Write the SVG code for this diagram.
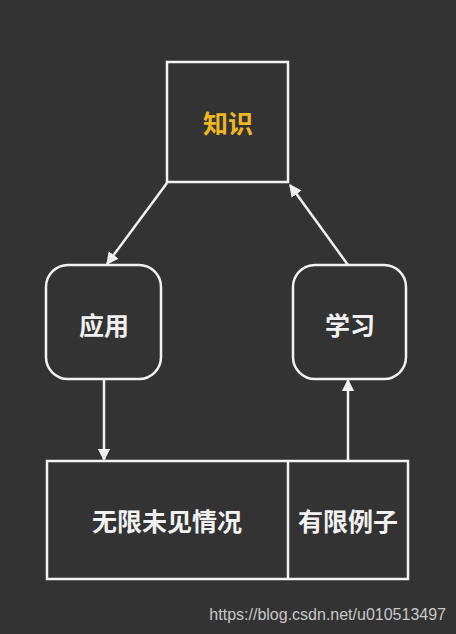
<svg xmlns="http://www.w3.org/2000/svg" width="456" height="634" viewBox="0 0 456 634">
<style>
.box{fill:#333333;stroke:#f2f2f2;stroke-width:2.5}
.lbl{font-family:"Noto Sans CJK SC","Noto Sans",sans-serif;font-weight:bold;font-size:25px;fill:#f2f2f2;text-anchor:middle;dominant-baseline:central}
.edge{stroke:#f2f2f2;stroke-width:2.5;fill:none;marker-end:url(#ah)}
</style>
<defs>
<marker id="ah" viewBox="0 0 10 10" refX="9" refY="5" markerWidth="5" markerHeight="5" markerUnits="strokeWidth" orient="auto">
<path d="M0,0 L10,5 L0,10 Z" fill="#f2f2f2"/>
</marker>
</defs>
<rect x="0" y="0" width="456" height="634" fill="#333333"/>
<g id="zhishi">
<rect class="box" x="167" y="62" width="121" height="120"/>
<text class="lbl" x="228" y="122" style="fill:#f0b81e">知识</text>
</g>
<g id="yingyong">
<rect class="box" x="46" y="265" width="115" height="114" rx="22"/>
<text class="lbl" x="104" y="324">应用</text>
</g>
<g id="xuexi">
<rect class="box" x="293" y="265" width="113" height="114" rx="22"/>
<text class="lbl" x="350" y="324">学习</text>
</g>
<g id="bottom">
<rect class="box" x="47" y="461" width="361" height="118"/>
<line x1="288" y1="461" x2="288" y2="579" stroke="#f2f2f2" stroke-width="2.5"/>
<text class="lbl" x="167" y="520">无限未见情况</text>
<text class="lbl" x="348" y="520">有限例子</text>
</g>
<g id="connectors">
<line class="edge" x1="167" y1="183" x2="107" y2="264"/>
<line class="edge" x1="348" y1="265" x2="290" y2="185"/>
<line class="edge" x1="104" y1="379" x2="104" y2="460"/>
<line class="edge" x1="348" y1="461" x2="348" y2="380"/>
</g>
<text x="446" y="620" font-family="Liberation Sans,Arial,sans-serif" font-size="16" fill="#c8c8c8" text-anchor="end">https://blog.csdn.net/u010513497</text>
</svg>
